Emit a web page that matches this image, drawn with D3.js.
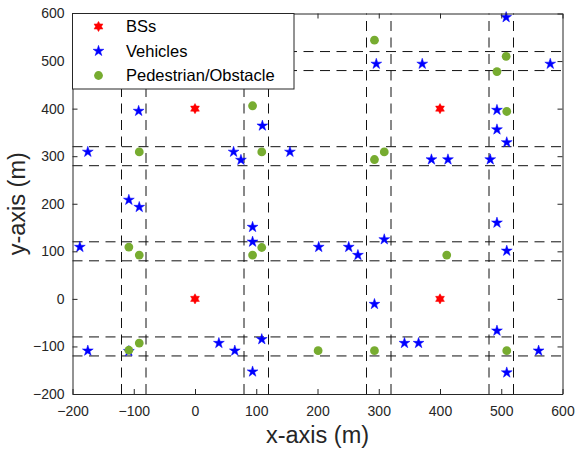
<!DOCTYPE html>
<html>
<head>
<meta charset="utf-8">
<script src="https://cdn.jsdelivr.net/npm/d3@7"></script>
<style>
  html, body { margin: 0; padding: 0; background: #fff; }
  svg { display: block; font-family: "Liberation Sans", Arial, Helvetica, sans-serif; }
</style>
</head>
<body>
<svg id="chart" width="577" height="451"></svg>
<script>
// Base stations (red hexagrams)
const bsX = [0, 400, 0, 400];
const bsY = [400, 400, 0, 0];

// Vehicles (blue pentagrams)
const vehX = [-92, -175, 110, 63, 75, 155, -108, -91,
              508, 296, 371, 580, 493, 493, 509, 482, 386, 413,
              -188, 94, 94, -175, -108, 39, 65, 109, 94,
              493, 202, 251, 266, 309, 509, 293, 493, 342, 365, 561, 509];
const vehY = [395, 309, 364, 309, 292, 309, 208, 193,
              592, 494, 494, 494, 397, 356, 329, 293, 293, 293,
              109, 151, 120, -109, -110, -93, -109, -85, -153,
              160, 109, 109, 92, 125, 101, -11, -67, -93, -93, -109, -155];

// Pedestrians / obstacles (green dots)
const pedX = [-91, 94, 109, 293, 508, 493, 509, 293, 309,
              -108, -91, 94, 109, -108, -91, 411, 201, 293, 509];
const pedY = [309, 406, 309, 544, 510, 478, 394, 293, 309,
              109, 92, 92, 108, -108, -93, 92, -109, -109, -109];

// Road edges (dashed), same in both directions
const roadEdges = [-120, -80, 80, 120, 280, 320, 480, 520];

const tickValues = [-200, -100, 0, 100, 200, 300, 400, 500, 600];
const legendLabels = ["BSs", "Vehicles", "Pedestrian/Obstacle"];

const svg = d3.select("#chart");
const axisColor = "#262626";

const x = d3.scaleLinear().domain([-200, 600]).range([72.5, 562.5]);
const y = d3.scaleLinear().domain([-200, 600]).range([394, 13.5]);
const [x0, x1] = x.range();
const [y0, y1] = y.range();

// Star path: n points, outer radius R, inner radius r, first point straight up
function starPath(n, R, r) {
  const pts = [];
  for (let i = 0; i < 2 * n; i++) {
    const a = -Math.PI / 2 + i * Math.PI / n;
    const rad = i % 2 === 0 ? R : r;
    pts.push([rad * Math.cos(a), rad * Math.sin(a)]);
  }
  return "M" + pts.map(p => p[0].toFixed(2) + "," + p[1].toFixed(2)).join("L") + "Z";
}
const hexagram = starPath(6, 5.1, 5.1 / Math.sqrt(3));
const pentagram = starPath(5, 5.7, 5.7 * 0.382);

const plot = svg.append("g");

// Dashed road edges
plot.selectAll("line.v").data(roadEdges).join("line")
  .attr("x1", d => x(d)).attr("x2", d => x(d))
  .attr("y1", y0).attr("y2", y1)
  .attr("stroke", "#111").attr("stroke-width", 1)
  .attr("stroke-dasharray", "10,6.5");
plot.selectAll("line.h").data(roadEdges).join("line")
  .attr("y1", d => y(d)).attr("y2", d => y(d))
  .attr("x1", x0).attr("x2", x1)
  .attr("stroke", "#111").attr("stroke-width", 1)
  .attr("stroke-dasharray", "10,6.5");

// Markers
plot.selectAll("path.bs").data(d3.range(bsX.length)).join("path")
  .attr("d", hexagram)
  .attr("transform", i => `translate(${x(bsX[i])},${y(bsY[i])})`)
  .attr("fill", "#ff0000").attr("stroke", "#ff0000").attr("stroke-width", 0.5);

plot.selectAll("path.veh").data(d3.range(vehX.length)).join("path")
  .attr("d", pentagram)
  .attr("transform", i => `translate(${x(vehX[i])},${y(vehY[i])})`)
  .attr("fill", "#0000ff").attr("stroke", "#0000ff").attr("stroke-width", 0.5);

plot.selectAll("circle.ped").data(d3.range(pedX.length)).join("circle")
  .attr("cx", i => x(pedX[i])).attr("cy", i => y(pedY[i]))
  .attr("r", 4.4)
  .attr("fill", "#77ac30");

// Axes: ticks pointing inward on all four sides, labels on bottom and left
const tickLen = 5;
const xb = svg.append("g").attr("transform", `translate(0,${y0})`)
  .call(d3.axisBottom(x).tickValues(tickValues).tickSizeInner(-tickLen).tickSizeOuter(0).tickPadding(12));
const xt = svg.append("g").attr("transform", `translate(0,${y1})`)
  .call(d3.axisTop(x).tickValues(tickValues).tickSizeInner(-tickLen).tickSizeOuter(0).tickFormat(""));
const yl = svg.append("g").attr("transform", `translate(${x0},0)`)
  .call(d3.axisLeft(y).tickValues(tickValues).tickSizeInner(-tickLen).tickSizeOuter(0).tickPadding(8));
const yr = svg.append("g").attr("transform", `translate(${x1},0)`)
  .call(d3.axisRight(y).tickValues(tickValues).tickSizeInner(-tickLen).tickSizeOuter(0).tickFormat(""));

[xb, xt, yl, yr].forEach(g => {
  g.select(".domain").attr("stroke", axisColor).attr("stroke-width", 1);
  g.selectAll(".tick line").attr("stroke", axisColor).attr("stroke-width", 1);
  g.selectAll(".tick text").attr("fill", axisColor)
    .style("font-family", '"Liberation Sans", Arial, Helvetica, sans-serif')
    .style("font-size", "14px");
});

// Legend (drawn over the grid lines)
const lg = svg.append("g");
lg.append("rect")
  .attr("x", x0).attr("y", y1)
  .attr("width", 294 - x0).attr("height", 89 - y1)
  .attr("fill", "#fff").attr("stroke", axisColor).attr("stroke-width", 1);
const rowY = [26.5, 51, 75.5];
const legendSymbols = [
  g => g.append("path").attr("d", hexagram).attr("fill", "#ff0000").attr("stroke", "#ff0000").attr("stroke-width", 0.5),
  g => g.append("path").attr("d", pentagram).attr("fill", "#0000ff").attr("stroke", "#0000ff").attr("stroke-width", 0.5),
  g => g.append("circle").attr("r", 4.4).attr("fill", "#77ac30")
];
legendLabels.forEach((label, i) => {
  const row = lg.append("g").attr("transform", `translate(98.5,${rowY[i]})`);
  legendSymbols[i](row);
  lg.append("text")
    .attr("x", 126).attr("y", rowY[i]).attr("dy", "0.36em")
    .attr("fill", "#000").style("font-size", "16.5px")
    .text(label);
});

// Axis titles
svg.append("text")
  .attr("x", (x0 + x1) / 2).attr("y", 443)
  .attr("text-anchor", "middle").attr("fill", axisColor)
  .style("font-size", "23.5px")
  .text("x-axis (m)");
svg.append("text")
  .attr("transform", `translate(25,${(y0 + y1) / 2}) rotate(-90)`)
  .attr("text-anchor", "middle").attr("fill", axisColor)
  .style("font-size", "23.5px")
  .text("y-axis (m)");
</script>
</body>
</html>
